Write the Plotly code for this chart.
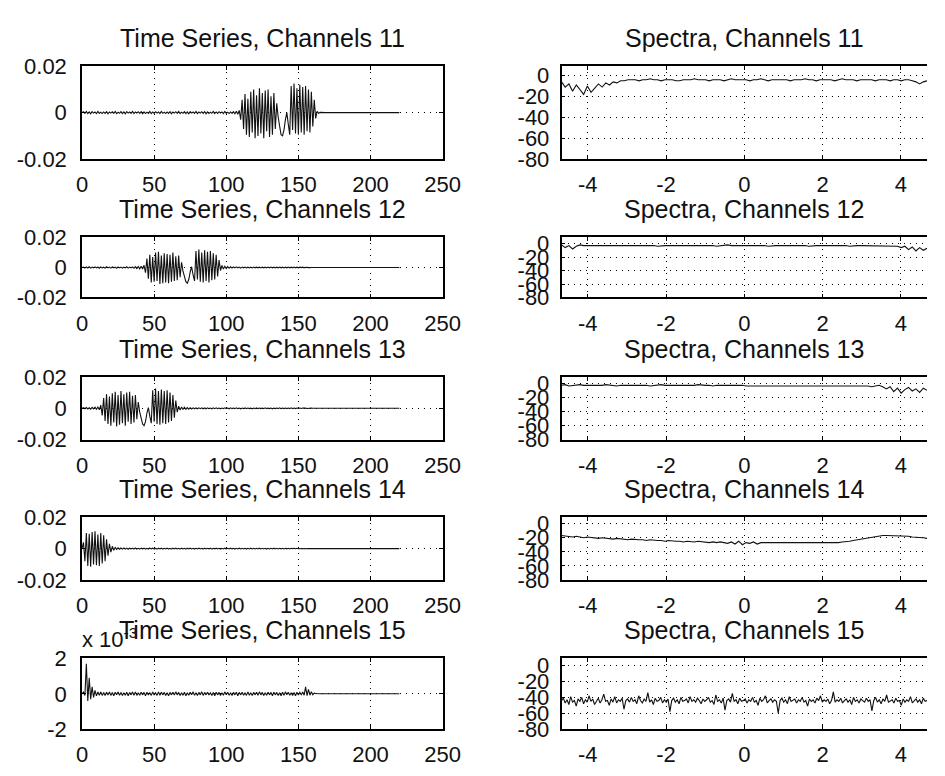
import numpy as np
import plotly.graph_objects as go

# ---------------- data (time series in units of 1e-4, spectra in dB) ----------------
SCALE = 1e-4

ch11 = [
    0, 4, -3, 5, -4, 3, -5, 4, -2, 3, -4, 5, -3, 2, -4, 3, -3, 4, -5, 3,
    -2, 4, -3, 5, -4, 2, -3, 4, -4, 3, -5, 4, -2, 3, -3, 5, -4, 3, -2, 4,
    -3, 4, -5, 3, -4, 2, -3, 5, -4, 3, -3, 4, -2, 3, -4, 5, -3, 2, -4, 3,
    -3, 4, -5, 3, -2, 4, -3, 5, -4, 2, -3, 4, -4, 3, -5, 4, -2, 3, -3, 5,
    -4, 3, -2, 4, -3, 4, -5, 3, -4, 2, -3, 5, -4, 3, -3, 4, -2, 3, -4, 5,
    -3, 2, -4, 3, -3, 4, -5, 6, -7,
    10, -30, 55, -70, 80, -95, 60, -105, 90, -85, 100, -110, 75, -100, 105, -90,
    85, -110, 95, -80, 100, -105, 70, -95, 85, -70, 40,
    -20, -60, -95, -100, -75, -30, 0, -50, -95,
    115, -75, 125, -90, 105, -95, 120, -85, 110, -95, 115, -80, 100, -85, 90, -60, 55, -25,
    6, -3, 1, 0, 0, 0, 0, 0, 0, 0, 0, 0, 0, 0, 0, 0, 0, 0, 0, 0,
    0, 0, 0, 0, 0, 0, 0, 0, 0, 0, 0, 0, 0, 0, 0, 0, 0, 0, 0, 0,
    0, 0, 0, 0, 0, 0, 0, 0, 0, 0, 0, 0, 0, 0, 0, 0, 0, 0,
]

ch12 = [
    0, 3, -4, 4, -3, 5, -4, 3, -2, 4, -3, 3, -5, 4, -3, 2, -4, 5, -3, 3,
    -4, 4, -2, 3, -5, 4, -3, 3, -4, 2, -3, 5, -4, 3, -3, 4, -5, 6, -7, 7,
    -9, 8, -10,
    15, -35, 60, -75, 85, -100, 70, -95, 100, -90, 105, -110, 80, -105, 95, -100,
    90, -105, 85, -95, 100, -90, 75, -85, 80, -65, 35,
    -25, -65, -95, -105, -80, -30, 5, -50, -90,
    110, -80, 120, -95, 100, -100, 115, -90, 105, -100, 110, -85, 95, -80, 85, -60, 50, -20,
    14, -10, 8, -7, 6, -5, 5, -4, 4, -3, 4, -3, 3, -4, 3, -2, 3, -3, 2, -3,
    2, -3, 3, -2, 3, -2, 2, -3, 3, -2, 2, -3, 3, -2, 3, -2, 2, -3, 2, -2,
    3, -2, 2, -3, 2, -2, 3, -2, 2, -2, 3, -2, 2, -2, 2, -1, 2, -2, 1, -1,
    1, -1, 0, 0,
    0, 0, 0, 0, 0, 0, 0, 0, 0, 0, 0, 0, 0, 0, 0, 0, 0, 0, 0, 0,
    0, 0, 0, 0, 0, 0, 0, 0, 0, 0, 0, 0, 0, 0, 0, 0, 0, 0, 0, 0,
    0, 0, 0, 0, 0, 0, 0, 0, 0, 0, 0, 0, 0, 0, 0, 0, 0, 0, 0, 0,
]

ch13 = [
    0, 4, -3, 5, -4, 3, -5, 6, -4, 7, -6, 8, -9,
    20, -45, 65, -80, 90, -100, 75, -110, 95, -90, 105, -115, 85, -105, 110, -95,
    90, -110, 100, -85, 105, -100, 80, -90, 85, -70, 40,
    -25, -65, -100, -110, -85, -30, 5, -50, -95,
    115, -85, 125, -100, 110, -105, 120, -95, 110, -100, 115, -90, 100, -80, 85, -60, 50, -25,
    14, -11, 9, -8, 7, -6, 5, -5, 4, -4, 3, -3, 3, -3,
    3, -2, 3, -3, 2, -3, 3, -2, 2, -3, 3, -2, 3, -2, 2, -3, 2, -2, 3, -2,
    2, -3, 3, -2, 2, -2, 3, -2, 2, -3, 2, -2, 3, -2, 2, -2, 2, -3, 2, -2,
    3, -2, 2, -2, 2, -2, 3, -2, 2, -2, 2, -3, 2, -2, 2, -2, 3, -2, 2, -2,
    2, -2, 2, -2, 3, -2, 2, -2, 2, -1, 2, -1, 2, -1, 1, -1, 1, 0, 1, 0,
    0, 0, 0, 0, 0, 0, 0, 0, 0, 0, 0, 0, 0, 0, 0, 0, 0, 0, 0, 0,
    0, 0, 0, 0, 0, 0, 0, 0, 0, 0, 0, 0, 0, 0, 0, 0, 0, 0, 0, 0,
    0, 0, 0, 0, 0, 0, 0, 0, 0, 0, 0, 0, 0, 0, 0, 0, 0, 0, 0, 0,
]

ch14 = [
    0,
    40, -80, 100, -110, 95, -115, 105, -100, 110, -105, 90, -110, 100, -95, 85, -80, 60,
    -45, 30, -22, 15, -10, 7, -5,
    5, -4, 4, -3, 4, -3, 3, -4, 3, -2, 3, -3, 4, -3, 2, -3, 3, -2, 3, -3,
    2, -3, 4, -2, 3, -3, 2, -3, 3, -2, 3, -3, 2, -2, 3, -3, 2, -3, 3, -2,
    3, -2, 2, -3, 3, -2, 2, -3, 3, -2, 3, -2, 2, -3, 2, -2, 3, -2, 2, -3,
    3, -2, 2, -2, 3, -3, 2, -2, 3, -2, 2, -3, 2, -2, 3, -2, 2, -2, 3, -2,
    2, -3, 2, -2, 3, -2, 2, -2, 2, -3, 2, -2, 3, -2, 2, -2, 2, -2, 3, -2,
    2, -2, 2, -3, 2, -2, 2, -2, 3, -2, 2, -2, 2, -2, 2, -2, 2, -2, 2, -2,
    2, -1, 2, -1, 2, -1, 1, -1, 1, -1, 1, -1, 1, 0, 1, 0,
    0, 0, 0, 0, 0, 0, 0, 0, 0, 0, 0, 0, 0, 0, 0, 0, 0, 0, 0, 0,
    0, 0, 0, 0, 0, 0, 0, 0, 0, 0, 0, 0, 0, 0, 0, 0, 0, 0, 0, 0,
    0, 0, 0, 0, 0, 0, 0, 0, 0, 0, 0, 0, 0, 0, 0, 0, 0, 0, 0, 0,
]

ch15 = [
    0, 1, -1, 17, -4, 9, -3, 4, -2, 2,
    -1.2, 1.0, -0.8, 1.1, -0.9, 0.8, -1.0, 0.9, -0.7, 1.0, -0.9, 0.7, -1.1, 0.9, -0.6, 1.0, -0.8, 0.7, -1.0, 0.6,
    -0.8, 0.9, -1.1, 0.7, -0.6, 1.0, -0.8, 1.1, -0.9, 0.6, -0.8, 0.9, -0.6, 0.8, -1.1, 0.9, -0.7, 0.6, -0.9, 1.1,
    -0.7, 0.6, -0.9, 1.1, -0.8, 0.9, -0.6, 0.8, -0.9, 0.6, -1.1, 0.8, -0.6, 0.9, -0.7, 1.1, -0.6, 0.8, -0.9, 0.6,
    -0.8, 0.9, -1.1, 0.6, -0.8, 0.9, -0.6, 1.1, -0.8, 0.6, -0.9, 0.8, -0.6, 1.1, -0.9, 0.8, -0.6, 0.9, -0.7, 0.6,
    -0.9, 0.8, -1.1, 0.9, -0.6, 0.8, -0.9, 0.6, -0.8, 1.1, -0.6, 0.9, -0.8, 0.6, -0.9, 0.8, -0.6, 0.9, -1.1, 0.8,
    -0.6, 0.9, -0.8, 0.6, -0.9, 1.1, -0.8, 0.6, -0.9, 0.8, -0.6, 0.9, -0.8, 1.1, -0.6, 0.8, -0.9, 0.6, -0.8, 0.9,
    -0.6, 0.8, -1.1, 0.9, -0.6, 0.8, -0.9, 0.6, -1.1, 0.9, -0.8, 1.1, -0.6, 0.9, -0.8, 0.6, -0.9, 0.8, -1.1, 0.9,
    -0.7, 0.8,
    -0.5, 1, -0.8, 4, -1, 2.5, -0.8, 1.2, -0.5, 0.4, 0.2, 0,
    0, 0, 0, 0, 0, 0, 0, 0, 0, 0, 0, 0, 0, 0, 0, 0, 0, 0, 0, 0,
    0, 0, 0, 0, 0, 0, 0, 0, 0, 0, 0, 0, 0, 0, 0, 0, 0, 0, 0, 0,
    0, 0, 0, 0, 0, 0, 0, 0, 0, 0, 0, 0, 0, 0, 0, 0, 0,
]

spec11 = [
    -6, -11, -8, -15, -9, -13, -18, -10, -16, -12, -8, -11, -7, -9, -6, -7, -5, -5, -4, -4,
    -4, -5, -4, -4, -3, -4, -4, -5, -4, -4, -4, -5, -5, -4, -4, -4, -3, -4, -4, -4,
    -5, -4, -4, -4, -5, -4, -3, -4, -4, -4, -4, -5, -4, -4, -3, -4, -5, -4, -4, -4,
    -4, -4, -5, -4, -4, -4, -3, -4, -4, -5, -4, -4, -4, -4, -5, -4, -3, -4, -4, -4,
    -5, -4, -4, -4, -4, -5, -4, -4, -4, -5, -4, -4, -5, -4, -4, -5, -6, -8, -6, -5,
]

spec12 = [
    -2, -6, -3, -8, -4, -2, -3, -3, -3, -3, -2, -3, -3, -3, -2, -3, -3, -3, -3, -2,
    -3, -3, -3, -2, -3, -3, -4, -3, -3, -3, -3, -2, -3, -3, -3, -3, -2, -3, -3, -3,
    -3, -3, -4, -3, -3, -2, -3, -3, -3, -3, -3, -3, -2, -3, -3, -3, -4, -3, -3, -3,
    -3, -2, -3, -3, -3, -3, -3, -4, -3, -3, -3, -3, -2, -3, -3, -3, -3, -3, -4, -3,
    -3, -3, -3, -3, -3, -4, -3, -3, -3, -3, -3, -4, -6, -4, -9, -5, -11, -6, -10, -7,
]

spec13 = [
    -3, -2, -4, -3, -3, -2, -3, -3, -4, -3, -3, -3, -2, -3, -3, -4, -3, -3, -3, -3,
    -2, -3, -3, -3, -4, -3, -3, -2, -3, -3, -3, -3, -4, -4, -3, -3, -3, -2, -3, -3,
    -3, -4, -3, -3, -3, -3, -2, -3, -3, -3, -4, -4, -3, -3, -3, -3, -3, -4, -3, -3,
    -3, -3, -4, -4, -3, -3, -4, -3, -3, -4, -4, -3, -4, -4, -3, -3, -4, -4, -4, -3,
    -4, -4, -3, -4, -5, -4, -3, -5, -8, -5, -12, -7, -14, -9, -6, -11, -8, -13, -7, -10,
]

spec14 = [
    -17, -18, -18, -19, -18, -19, -20, -19, -20, -20, -21, -20, -21, -21, -22, -21, -22, -22, -23, -22,
    -23, -23, -23, -24, -23, -24, -24, -24, -25, -24, -25, -25, -25, -26, -25, -26, -26, -25, -26, -26,
    -27, -26, -27, -26, -27, -28, -26, -29, -25, -30, -27, -28, -26, -29, -27, -27, -28, -27, -27, -28,
    -27, -28, -28, -27, -28, -28, -28, -27, -28, -28, -28, -28, -27, -28, -27, -27, -26, -26, -25, -24,
    -23, -22, -21, -20, -19, -18, -18, -17, -17, -17, -17, -18, -17, -18, -18, -19, -19, -20, -20, -21,
]

spec15 = [
    -44, -41, -47, -43, -49, -39, -46, -44, -51, -42, -45, -40, -48, -43, -46, -38, -45, -42, -49, -44,
    -41, -47, -43, -36, -45, -44, -50, -42, -46, -39, -47, -43, -45, -41, -55, -44, -42, -46, -40, -45,
    -43, -48, -38, -44, -47, -42, -45, -34, -46, -43, -49, -41, -45, -44, -40, -47, -43, -46, -42, -58,
    -44, -41, -46, -43, -48, -40, -45, -44, -42, -47, -39, -45, -43, -46, -41, -44, -48, -42, -45, -43,
    -40, -46, -44, -49, -37, -45, -43, -47, -41, -56, -44, -42, -46, -35, -45, -43, -48, -41, -45, -44,
    -42, -47, -43, -45, -40, -46, -44, -50, -41, -45, -43, -38, -47, -44, -42, -46, -43, -45, -60, -44,
    -41, -46, -43, -48, -39, -45, -44, -42, -47, -43, -45, -40, -46, -44, -51, -42, -45, -43, -47, -41,
    -44, -38, -46, -43, -45, -42, -48, -44, -33, -46, -43, -45, -41, -47, -44, -42, -46, -43, -49, -40,
    -45, -43, -47, -42, -44, -46, -41, -45, -43, -57, -44, -40, -46, -43, -48, -42, -45, -37, -46, -44,
    -43, -47, -41, -45, -44, -50, -42, -46, -43, -45, -39, -47, -44, -42, -46, -43, -48, -41, -45, -44,
]

time_series = [ch11, ch12, ch13, ch14, ch15]
spectra = [spec11, spec12, spec13, spec14, spec15]
channels = [11, 12, 13, 14, 15]

time_ticks = [0, 50, 100, 150, 200, 250]
time_ytick_vals = [-0.02, 0, 0.02]
time_ytick_text = ["-0.02", "0", "0.02"]
ch15_ytick_vals = [-2e-3, 0, 2e-3]
ch15_ytick_text = ["-2", "0", "2"]
freq_ticks = [-4, -2, 0, 2, 4]
freq_tick_text = ["-4", "-2", "0", "2", "4"]
db_ticks = [0, -20, -40, -60, -80]
db_tick_text = ["0", "-20", "-40", "-60", "-80"]
freq_lo, freq_hi = -4.67, 4.67

# ---------------- layout geometry (pixels) ----------------
W, H = 945, 776
LEFT_X = (78, 448)
RIGHT_X = (570, 945)
ROW_TOP = [56, 233, 377, 522, 668]
ROW_BOT = [152, 295, 442, 587, 741]

FONT = "Liberation Sans, Arial, sans-serif"
TICK_SIZE = 22
TITLE_SIZE = 25
INK = "#111111"

fig = go.Figure()
layout = dict(
    width=W, height=H,
    margin=dict(l=0, r=0, t=0, b=0, pad=0),
    paper_bgcolor="white", plot_bgcolor="white",
    showlegend=False,
    font=dict(family=FONT, color=INK, size=TICK_SIZE),
    annotations=[],
)

common_axis = dict(
    showline=True, linecolor="black", linewidth=1.5,
    ticks="inside", ticklen=4, tickcolor="black", tickwidth=1,
    showgrid=True, gridcolor="black", gridwidth=1, griddash="1px,5px",
    zeroline=False, fixedrange=True,
    tickfont=dict(family=FONT, size=TICK_SIZE, color=INK),
)

for i in range(5):
    nl = 2 * i + 1
    nr = 2 * i + 2
    ydom = [1 - ROW_BOT[i] / H, 1 - ROW_TOP[i] / H]

    # --- time series ---
    y = np.array(time_series[i], dtype=float) * SCALE
    t = np.arange(len(y))
    fig.add_trace(go.Scatter(x=t, y=y, mode="lines", line=dict(color=INK, width=1.1),
                             xaxis=f"x{nl}", yaxis=f"y{nl}", hoverinfo="skip"))
    layout[f"xaxis{nl}"] = dict(common_axis, domain=[LEFT_X[0] / W, LEFT_X[1] / W],
                                range=[0, 250], tickvals=time_ticks,
                                ticktext=[str(v) for v in time_ticks],
                                anchor=f"y{nl}", mirror="ticks", ticklabelstandoff=5)
    if i < 4:
        yv, yt, yr = time_ytick_vals, time_ytick_text, [-0.02, 0.02]
    else:
        yv, yt, yr = ch15_ytick_vals, ch15_ytick_text, [-2e-3, 2e-3]
    layout[f"yaxis{nl}"] = dict(common_axis, domain=ydom, range=yr, tickvals=yv,
                                ticktext=yt, anchor=f"x{nl}", mirror="ticks",
                                ticklabelstandoff=9)

    # --- spectra ---
    s = np.array(spectra[i], dtype=float)
    f = np.linspace(freq_lo, freq_hi, len(s))
    fig.add_trace(go.Scatter(x=f, y=s, mode="lines", line=dict(color=INK, width=1.1),
                             xaxis=f"x{nr}", yaxis=f"y{nr}", hoverinfo="skip"))
    layout[f"xaxis{nr}"] = dict(common_axis, domain=[RIGHT_X[0] / W, 1.0],
                                range=[freq_lo, freq_hi], tickvals=freq_ticks,
                                ticktext=freq_tick_text, anchor=f"y{nr}",
                                mirror="ticks", ticklabelstandoff=5)
    layout[f"yaxis{nr}"] = dict(common_axis, domain=ydom, range=[-80, 9],
                                tickvals=db_ticks, ticktext=db_tick_text,
                                anchor=f"x{nr}", mirror=False, ticklabelstandoff=6)

    # titles
    ty = 1 - (ROW_TOP[i] - 29) / H
    layout["annotations"].append(dict(
        text=f"Time Series, Channels {channels[i]}", x=(LEFT_X[0] + LEFT_X[1]) / 2 / W,
        y=ty, xref="paper", yref="paper", xanchor="center", yanchor="middle",
        showarrow=False, font=dict(family=FONT, size=TITLE_SIZE, color=INK)))
    layout["annotations"].append(dict(
        text=f"Spectra, Channels {channels[i]}", x=(RIGHT_X[0] + RIGHT_X[1]) / 2 / W,
        y=ty, xref="paper", yref="paper", xanchor="center", yanchor="middle",
        showarrow=False, font=dict(family=FONT, size=TITLE_SIZE, color=INK)))

# exponent label for channel 15
layout["annotations"].append(dict(
    text="x 10<sup>-3</sup>", x=76 / W, y=1 - 647 / H, xref="paper", yref="paper",
    xanchor="left", yanchor="middle", showarrow=False,
    font=dict(family=FONT, size=TICK_SIZE, color=INK)))

fig.update_layout(**layout)
fig.write_html("out.html", config={"displayModeBar": False},
               post_script="document.body.style.margin='0px';document.body.style.overflow='hidden';")
